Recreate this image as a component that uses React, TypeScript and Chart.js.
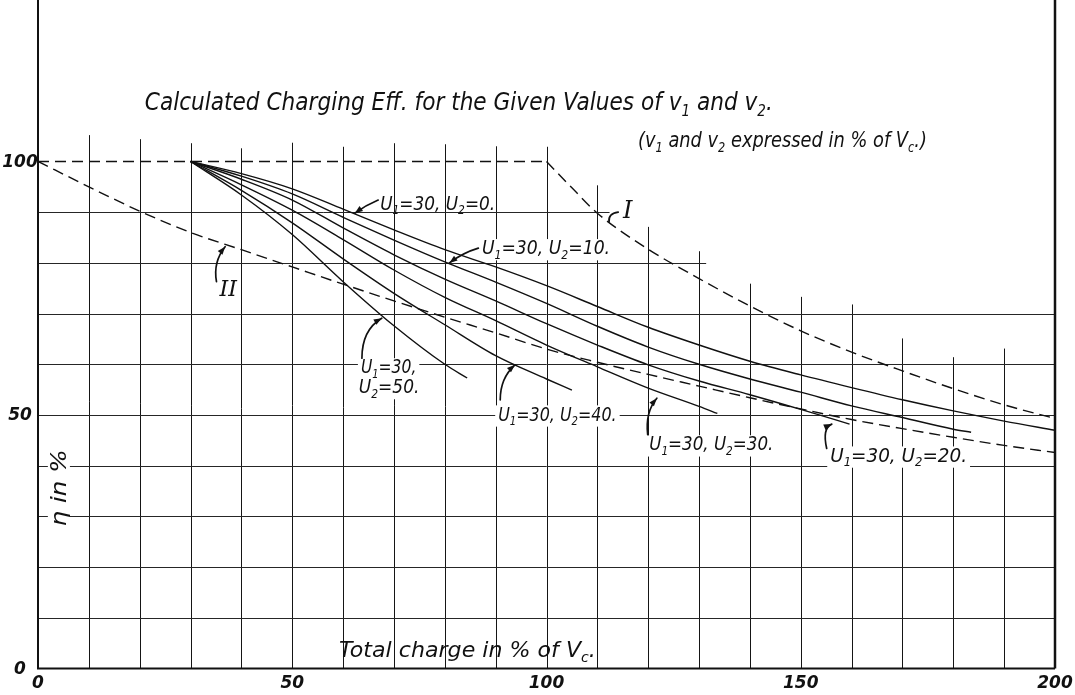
import React, { useEffect, useRef } from "react";
import { Chart, registerables } from "chart.js";

Chart.register(...registerables);

// ---------------- data (x: total charge in % of Vc, y: efficiency in %) ----------------
const X_MIN = 0;
const X_MAX = 200;
const Y_MIN = 0;
const Y_MAX = 131.85;

// v1 = 30, v2 = 0
const xV2_0 = [30, 40, 50, 60, 70, 80, 90, 100, 110, 120, 130, 140, 150, 160, 170, 180, 190, 200];
const yV2_0 = [100, 97.6, 94.6, 90.6, 86.5, 82.6, 79.2, 75.5, 71.4, 67.3, 63.8, 60.6, 57.9, 55.4, 53.0, 50.8, 48.8, 47.0];
// v1 = 30, v2 = 10
const xV2_10 = [30, 40, 50, 60, 70, 80, 90, 100, 110, 120, 130, 140, 150, 160, 170, 180, 183.5];
const yV2_10 = [100, 97.1, 93.6, 89.0, 84.5, 80.2, 76.2, 72.0, 67.5, 63.4, 60.0, 57.1, 54.5, 51.8, 49.5, 47.2, 46.6];
// v1 = 30, v2 = 20
const xV2_20 = [30, 40, 50, 60, 70, 80, 90, 100, 110, 120, 130, 140, 150, 159.6];
const yV2_20 = [100, 96.5, 92.4, 86.9, 81.6, 76.8, 72.5, 68.0, 63.8, 59.9, 56.7, 54.0, 51.1, 48.2];
// v1 = 30, v2 = 30
const xV2_30 = [30, 40, 50, 60, 70, 80, 90, 100, 110, 120, 130, 133.6];
const yV2_30 = [100, 95.4, 90.4, 84.6, 78.6, 73.2, 68.6, 63.8, 59.5, 55.3, 51.7, 50.3];
// v1 = 30, v2 = 40
const xV2_40 = [30, 40, 50, 60, 70, 80, 90, 100, 105];
const yV2_40 = [100, 94.3, 87.9, 80.8, 74.0, 67.8, 61.7, 57.1, 54.9];
// v1 = 30, v2 = 50
const xV2_50 = [30, 40, 50, 60, 70, 80, 84.4];
const yV2_50 = [100, 93.4, 85.6, 76.3, 67.6, 60.0, 57.3];

// dashed curve I (flat part and falling part)
const xCurveIFlat = [0, 100];
const yCurveIFlat = [100, 100];
const xCurveIDrop = [100, 105, 110, 120, 130, 140, 150, 160, 170, 180, 190, 200];
const yCurveIDrop = [100, 94.8, 89.8, 82.7, 76.9, 71.5, 66.6, 62.4, 58.7, 55.2, 52.0, 49.3];
// dashed curve II
const xCurveII = [0, 10, 20, 30, 40, 50, 60, 70, 80, 90, 100, 110, 120, 130, 140, 150, 160, 170, 180, 190, 200];
const yCurveII = [100, 95.0, 90.2, 86.0, 82.6, 79.2, 75.8, 72.5, 69.3, 66.2, 63.0, 60.4, 58.0, 55.7, 53.4, 51.2, 49.1, 47.3, 45.6, 44.0, 42.6];

// ticks and grid
const xTickLabels = [0, 50, 100, 150, 200];
const yTickLabels = [0, 50, 100];
const xGridLines = [10, 20, 30, 40, 50, 60, 70, 80, 90, 100, 110, 120, 130, 140, 150, 160, 170, 180, 190];
const xGridTops = [105.2, 104.4, 103.6, 102.6, 103.7, 102.9, 103.6, 103.4, 103.0, 102.9, 95.3, 87.1, 82.3, 75.9, 73.3, 71.8, 65.1, 61.4, 63.1];
const yGridLines = [10, 20, 30, 40, 50, 60, 70, 80, 90];
const yGridEnds = [200, 200, 200, 200, 200, 200, 200, 131.4, 112.4];

// ---------------- annotations (in data units) ----------------
type Lbl = { text: string; x: number; y: number; w: number; size: number; bg: boolean };
const curveLabels: Lbl[] = [
  { text: "U_1=30, U_2=0.", x: 67.3, y: 90.5, w: 22.6, size: 19, bg: false },
  { text: "U_1=30, U_2=10.", x: 87.3, y: 81.7, w: 25.2, size: 19, bg: true },
  { text: "U_1=30,", x: 63.5, y: 58.2, w: 10.9, size: 19, bg: true },
  { text: "U_2=50.", x: 63.1, y: 54.3, w: 11.9, size: 19, bg: true },
  { text: "U_1=30, U_2=40.", x: 90.5, y: 48.9, w: 23.3, size: 19, bg: true },
  { text: "U_1=30, U_2=30.", x: 120.2, y: 43.0, w: 24.4, size: 19, bg: true },
  { text: "U_1=30, U_2=20.", x: 155.8, y: 40.8, w: 26.9, size: 19, bg: true },
];
const titleLabels: Lbl[] = [
  { text: "Calculated Charging Eff. for the Given Values of v_1 and v_2.", x: 21.0, y: 110.2, w: 123.5, size: 24, bg: false },
  { text: "(v_1 and v_2 expressed in % of V_c.)", x: 118.0, y: 102.9, w: 56.8, size: 22, bg: false },
  { text: "Total charge in % of V_c.", x: 59.2, y: 2.3, w: 50.5, size: 22, bg: false },
];
type Arw = { from: [number, number]; ctrl: [number, number]; to: [number, number]; head: boolean };
const arrows: Arw[] = [
  { from: [66.9, 92.4], ctrl: [64.5, 91.4], to: [62.3, 89.8], head: true },
  { from: [86.6, 82.9], ctrl: [83.6, 82.0], to: [80.9, 80.0], head: true },
  { from: [63.7, 61.2], ctrl: [63.7, 66.8], to: [67.6, 69.1], head: true },
  { from: [90.9, 53.0], ctrl: [90.9, 57.3], to: [93.8, 59.9], head: true },
  { from: [119.9, 46.1], ctrl: [119.4, 50.6], to: [121.7, 53.3], head: true },
  { from: [155.1, 43.4], ctrl: [154.2, 47.4], to: [156.1, 48.2], head: true },
  { from: [35.1, 76.3], ctrl: [34.4, 80.2], to: [36.8, 83.2], head: true },
  { from: [112.3, 88.1], ctrl: [112.1, 89.7], to: [114.1, 90.0], head: false },
];
const romanLabels = [
  { text: "I", x: 116.0, y: 90.0, size: 24 },
  { text: "II", x: 37.4, y: 74.6, size: 22 },
];
const yAxisTitle = { text: "η in %", x: 4.5, y: 35.6, w: 77, size: 21 };

// ---------------- helpers ----------------
const INK = "#111111";
const FONT = (sz: number, extra = "") => `italic ${extra}${sz}px "DejaVu Sans", "Liberation Sans", sans-serif`;

function parseRich(s: string) {
  const segs: { t: string; sub: boolean }[] = [];
  let buf = "";
  for (let i = 0; i < s.length; i++) {
    if (s[i] === "_" && i + 1 < s.length) {
      if (buf) segs.push({ t: buf, sub: false });
      buf = "";
      segs.push({ t: s[i + 1], sub: true });
      i++;
    } else buf += s[i];
  }
  if (buf) segs.push({ t: buf, sub: false });
  return segs;
}

function drawRich(ctx: CanvasRenderingContext2D, s: string, x0: number, base: number, size: number, targetW: number, bg: boolean) {
  const segs = parseRich(s);
  const widths: number[] = [];
  let w = 0;
  for (const g of segs) {
    ctx.font = FONT(g.sub ? Math.round(size * 0.62) : size);
    const mw = ctx.measureText(g.t).width;
    widths.push(mw);
    w += mw;
  }
  const sx = targetW / w;
  ctx.save();
  ctx.translate(x0, base);
  ctx.scale(sx, 1);
  if (bg) {
    ctx.fillStyle = "#ffffff";
    ctx.fillRect(-3 / sx, -size * 0.8, w + 6 / sx, size * 0.8 + size * 0.32);
  }
  ctx.fillStyle = INK;
  ctx.textBaseline = "alphabetic";
  ctx.textAlign = "left";
  let cx = 0;
  segs.forEach((g, i) => {
    ctx.font = FONT(g.sub ? Math.round(size * 0.62) : size);
    ctx.fillText(g.t, cx, g.sub ? size * 0.24 : 0);
    cx += widths[i];
  });
  ctx.restore();
}

function crisp(v: number) {
  return Math.round(v) + 0.5;
}

const backgroundPlugin = {
  id: "paper",
  beforeDraw(chart: any) {
    const { ctx, width, height } = chart;
    ctx.save();
    ctx.fillStyle = "#ffffff";
    ctx.fillRect(0, 0, width, height);
    ctx.restore();
  },
};

const gridPlugin = {
  id: "handGrid",
  beforeDatasetsDraw(chart: any) {
    const { ctx, chartArea } = chart;
    const xs = chart.scales.x;
    const ys = chart.scales.y;
    ctx.save();
    // vertical grid lines
    ctx.strokeStyle = "#151515";
    ctx.lineWidth = 1;
    xGridLines.forEach((gx, i) => {
      const px = crisp(xs.getPixelForValue(gx));
      ctx.beginPath();
      ctx.moveTo(px, ys.getPixelForValue(0));
      ctx.lineTo(px, ys.getPixelForValue(xGridTops[i]));
      ctx.stroke();
    });
    // horizontal grid lines
    ctx.strokeStyle = "#262626";
    yGridLines.forEach((gy, i) => {
      const py = crisp(ys.getPixelForValue(gy));
      ctx.beginPath();
      ctx.moveTo(xs.getPixelForValue(0), py);
      ctx.lineTo(xs.getPixelForValue(yGridEnds[i]), py);
      ctx.stroke();
    });
    // axes / frame
    ctx.strokeStyle = INK;
    ctx.lineWidth = 2;
    const l = xs.getPixelForValue(X_MIN);
    const r = xs.getPixelForValue(X_MAX);
    const b = ys.getPixelForValue(Y_MIN);
    ctx.beginPath();
    ctx.moveTo(l, chartArea.top);
    ctx.lineTo(l, b);
    ctx.lineTo(r, b);
    ctx.stroke();
    ctx.lineWidth = 2.5;
    ctx.beginPath();
    ctx.moveTo(r, b);
    ctx.lineTo(r, chartArea.top);
    ctx.stroke();

    // tick labels
    ctx.fillStyle = INK;
    ctx.font = FONT(17, "bold ");
    ctx.textAlign = "center";
    ctx.textBaseline = "middle";
    xTickLabels.forEach((v) => {
      ctx.fillText(String(v), xs.getPixelForValue(v), b + 15);
    });
    yTickLabels.forEach((v) => {
      ctx.fillText(String(v), l - 18, ys.getPixelForValue(v) + 1);
    });

    // curve labels (with paper behind them, so grid lines are interrupted)
    curveLabels.forEach((lb) => {
      const x0 = xs.getPixelForValue(lb.x);
      const w = xs.getPixelForValue(lb.x + lb.w) - x0;
      drawRich(ctx, lb.text, x0, ys.getPixelForValue(lb.y), lb.size, w, lb.bg);
    });
    titleLabels.forEach((lb) => {
      const x0 = xs.getPixelForValue(lb.x);
      const w = xs.getPixelForValue(lb.x + lb.w) - x0;
      drawRich(ctx, lb.text, x0, ys.getPixelForValue(lb.y), lb.size, w, lb.bg);
    });

    // y axis title (rotated)
    {
      const cx = xs.getPixelForValue(yAxisTitle.x);
      const cy = ys.getPixelForValue(yAxisTitle.y);
      ctx.save();
      ctx.translate(cx, cy);
      ctx.rotate(-Math.PI / 2);
      ctx.font = FONT(yAxisTitle.size);
      const mw = ctx.measureText(yAxisTitle.text).width;
      ctx.fillStyle = "#ffffff";
      ctx.fillRect(-yAxisTitle.w / 2 - 3, -yAxisTitle.size * 0.62, yAxisTitle.w + 6, yAxisTitle.size * 1.05);
      ctx.scale(yAxisTitle.w / mw, 1);
      ctx.fillStyle = INK;
      ctx.textAlign = "center";
      ctx.textBaseline = "middle";
      ctx.fillText(yAxisTitle.text, 0, 0);
      ctx.restore();
    }

    // roman numerals
    romanLabels.forEach((rl) => {
      ctx.font = `italic ${rl.size}px "DejaVu Serif", "Liberation Serif", serif`;
      ctx.fillStyle = INK;
      ctx.textAlign = "center";
      ctx.textBaseline = "middle";
      ctx.fillText(rl.text, xs.getPixelForValue(rl.x), ys.getPixelForValue(rl.y));
    });

    // arrows
    ctx.strokeStyle = INK;
    ctx.fillStyle = INK;
    ctx.lineWidth = 1.7;
    ctx.lineCap = "round";
    arrows.forEach((a) => {
      const p0 = [xs.getPixelForValue(a.from[0]), ys.getPixelForValue(a.from[1])];
      const c = [xs.getPixelForValue(a.ctrl[0]), ys.getPixelForValue(a.ctrl[1])];
      const p1 = [xs.getPixelForValue(a.to[0]), ys.getPixelForValue(a.to[1])];
      ctx.beginPath();
      ctx.moveTo(p0[0], p0[1]);
      ctx.quadraticCurveTo(c[0], c[1], p1[0], p1[1]);
      ctx.stroke();
      if (a.head) {
        const dx = p1[0] - c[0];
        const dy = p1[1] - c[1];
        const L = Math.hypot(dx, dy) || 1;
        const ux = dx / L;
        const uy = dy / L;
        const hl = 8;
        const hw = 3;
        ctx.beginPath();
        ctx.moveTo(p1[0], p1[1]);
        ctx.lineTo(p1[0] - ux * hl - uy * hw, p1[1] - uy * hl + ux * hw);
        ctx.lineTo(p1[0] - ux * hl + uy * hw, p1[1] - uy * hl - ux * hw);
        ctx.closePath();
        ctx.fill();
      }
    });
    ctx.restore();
  },
};

function pts(xs: number[], ys: number[]) {
  return xs.map((x, i) => ({ x, y: ys[i] }));
}

function solid(label: string, xs: number[], ys: number[]) {
  return {
    label,
    data: pts(xs, ys),
    borderColor: INK,
    borderWidth: 1.4,
    pointRadius: 0,
    fill: false,
    cubicInterpolationMode: "monotone" as const,
  };
}

function dashed(label: string, xs: number[], ys: number[]) {
  return {
    label,
    data: pts(xs, ys),
    borderColor: INK,
    borderWidth: 1.4,
    borderDash: [11, 6],
    pointRadius: 0,
    fill: false,
    cubicInterpolationMode: "monotone" as const,
  };
}

export default function App() {
  const ref = useRef<HTMLCanvasElement>(null);

  useEffect(() => {
    const canvas = ref.current;
    if (!canvas) return;
    const chart = new Chart(canvas, {
      type: "line",
      data: {
        datasets: [
          solid("v1=30, v2=0", xV2_0, yV2_0),
          solid("v1=30, v2=10", xV2_10, yV2_10),
          solid("v1=30, v2=20", xV2_20, yV2_20),
          solid("v1=30, v2=30", xV2_30, yV2_30),
          solid("v1=30, v2=40", xV2_40, yV2_40),
          solid("v1=30, v2=50", xV2_50, yV2_50),
          dashed("I", xCurveIFlat, yCurveIFlat),
          dashed("I ", xCurveIDrop, yCurveIDrop),
          dashed("II", xCurveII, yCurveII),
        ],
      } as any,
      options: {
        animation: false,
        responsive: false,
        maintainAspectRatio: false,
        layout: { padding: { left: 38, right: 20, top: 0, bottom: 26.5 } },
        scales: {
          x: { type: "linear", min: X_MIN, max: X_MAX, display: false },
          y: { type: "linear", min: Y_MIN, max: Y_MAX, display: false },
        },
        plugins: {
          legend: { display: false },
          tooltip: { enabled: false },
        },
        elements: { point: { radius: 0 } },
      } as any,
      plugins: [backgroundPlugin, gridPlugin],
    });
    return () => chart.destroy();
  }, []);

  return (
    <div style={{ position: "absolute", left: 0, top: 0, width: 1075, height: 695, background: "#ffffff" }}>
      <canvas ref={ref} width={1075} height={695} style={{ display: "block", width: 1075, height: 695 }} />
    </div>
  );
}
